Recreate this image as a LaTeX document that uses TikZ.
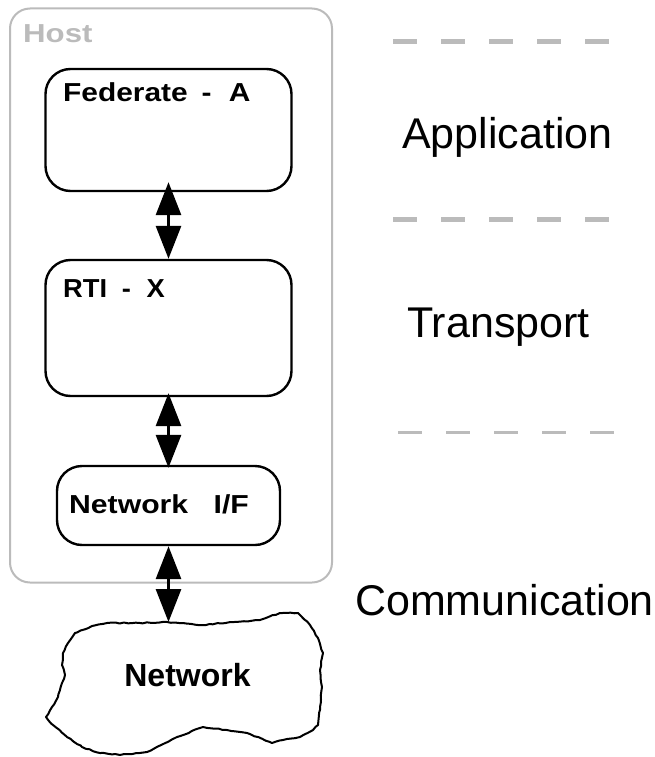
\documentclass[tikz,border=0pt]{standalone}
\usepackage{fontspec}
\setmainfont{Liberation Sans}
\usetikzlibrary{arrows.meta,decorations.pathmorphing}
\usepackage{xcolor}
\definecolor{hostgray}{HTML}{BBBBBB}

\tikzset{
  layerbox/.style={draw=black, line width=2.4pt, rounded corners=25pt, inner sep=0pt},
  boxtag/.style={anchor=north west, inner sep=0pt, font=\fontsize{26}{26}\selectfont\bfseries},
  layername/.style={anchor=base west, inner sep=0pt, font=\fontsize{43}{43}\selectfont},
  layerdash/.style={draw=hostgray, line width=5pt, dash pattern=on 24pt off 24pt},
  biarrow/.style={line width=3pt, {Triangle[length=33pt,width=25pt]}-{Triangle[length=33pt,width=25pt]}}
}

\begin{document}
\begin{tikzpicture}[x=1pt, y=-1pt]
  \useasboundingbox (0,0) rectangle (655,757);
  \pgfmathsetseed{7}

  % Host frame
  \node[draw=hostgray, line width=2pt, rounded corners=20pt, minimum width=322pt, minimum height=574pt] (host) at (171,295.5) {};
  \node[boxtag, text=hostgray] (hosttag) at (23,24.5) {\scalebox{1.2}[1]{Host}};

  % Layer boxes
  \node[layerbox, minimum width=246pt, minimum height=122pt] (fed) at (168.5,130) {};
  \node[boxtag] (fedtag) at (63,82) {\scalebox{1.15}[1]{Federate\hspace{12pt}-\hspace{15pt}A}};

  \node[layerbox, minimum width=246pt, minimum height=136pt] (rti) at (168.5,328) {};
  \node[boxtag] (rtitag) at (63,279.5) {\scalebox{1.05}[1]{RTI\hspace{14pt}-\hspace{15pt}X}};

  \node[layerbox, minimum width=223pt, minimum height=79pt] (nif) at (168.5,505.5) {};
  \node[boxtag] (niftag) at (69,494.5) {\scalebox{1.16}[1]{Network\hspace{22pt}I/F}};

  % Network cloud
  \draw[line width=2pt, line join=round, decorate, decoration={random steps, segment length=4pt, amplitude=0.5pt}]
    plot coordinates {(107,623) (92,626) (75,633) (68,643) (63,653) (62,665) (65,675) (62,683) (58,697)
      (52,707) (46,717) (53,725) (67,737) (82,747) (100,753) (120,755) (147,752) (177,737) (203,727)
      (227,730) (247,733) (272,743) (283,740) (300,737) (313,730) (318,725) (320,707) (322,687)
      (320,670) (323,653) (318,638) (310,625) (298,613) (280,613) (260,620) (233,622) (203,625)
      (167,622) (140,623)} -- cycle;
  \coordinate (cloudtop) at (168.5,622);
  \node[font=\fontsize{32}{32}\selectfont\bfseries] (net) at (187.5,675) {Network};

  % Connectors
  \draw[biarrow, shorten <=-10pt] (fed.south) -- (rti.north);
  \draw[biarrow, shorten <=-4pt, shorten >=-3pt] (rti.south) -- (nif.north);
  \draw[biarrow] (nif.south) -- (cloudtop);

  % Layer names and separators
  \draw[layerdash] (393,42) -- (609,42);
  \node[layername] (app) at (402,148) {Application};
  \draw[layerdash] (393,219) -- (609,219);
  \node[layername] (trans) at (407,337) {Transport};
  \draw[layerdash, line width=3pt] (398,432) -- (614,432);
  \node[layername] (comm) at (355,615) {Communication};

\end{tikzpicture}
\end{document}
